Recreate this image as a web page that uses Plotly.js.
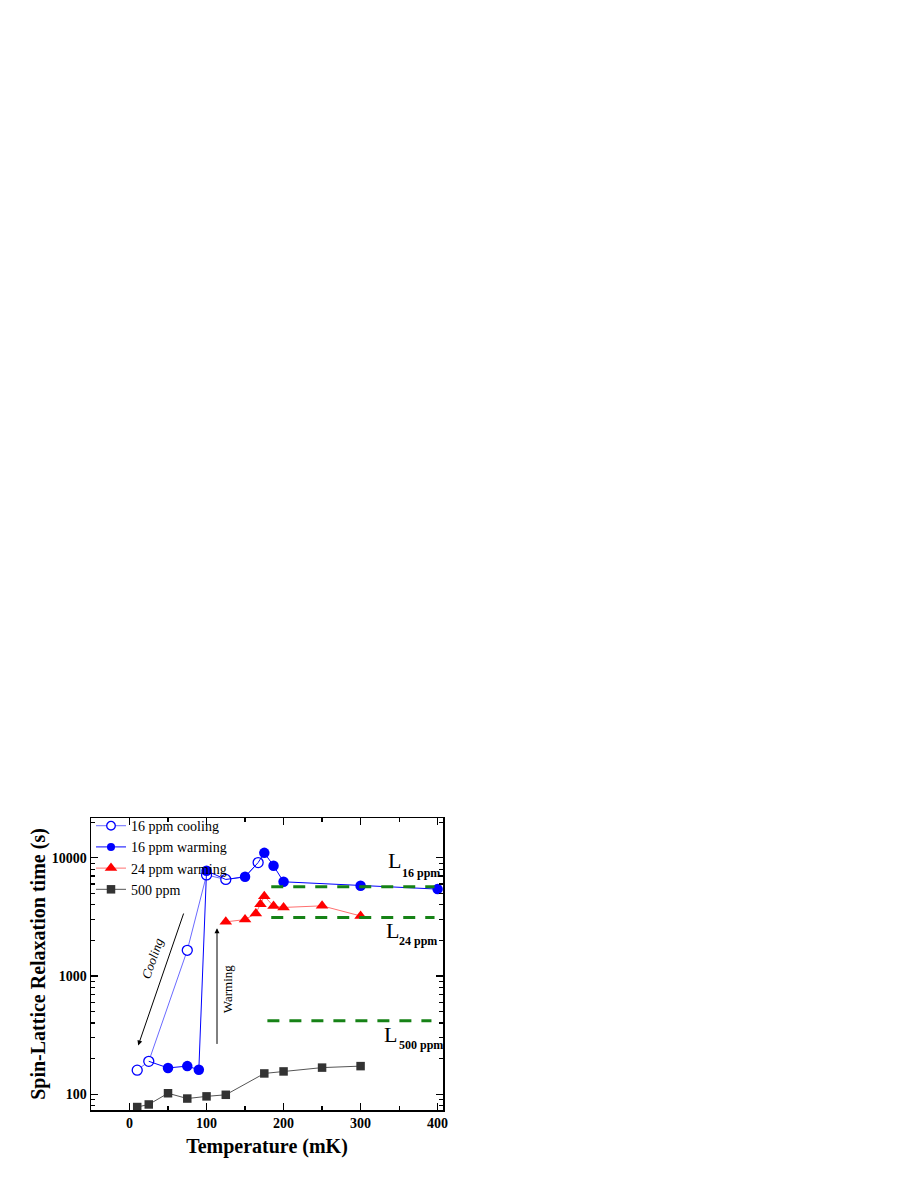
<!DOCTYPE html>
<html>
<head>
<meta charset="utf-8">
<script src="https://cdn.plot.ly/plotly-3.0.1.min.js"></script>
<style>
  body { margin: 0; background: #fff; }
  #chart { width: 913px; height: 1182px; }
</style>
</head>
<body>
<div id="chart"></div>
<script>
// 16 ppm cooling (open circles); 0-size points only carry the line
const coolT = [10, 25, 75, 100, 125, 150, 167];
const coolTau = [160, 190, 1650, 7150, 6550, 6900, 9100];
const coolSize = [10, 10, 10, 10, 10, 0, 10];

// 16 ppm warming (filled circles)
const warmT = [25, 50, 75, 90, 100, 125, 150, 167, 175, 187, 200, 300, 400];
const warmTau = [190, 167, 173, 161, 7760, 6550, 6900, 9100, 11000, 8560, 6260, 5790, 5430];
const warmSize = [0, 10.5, 10.5, 10.5, 10.5, 0, 10.5, 0, 10.5, 10.5, 10.5, 10.5, 10.5];

// 24 ppm warming (triangles)
const t24 = [125, 150, 164, 170, 175, 187, 200, 250, 300];
const tau24 = [2870, 3000, 3380, 4050, 4730, 3900, 3800, 3920, 3220];

// 500 ppm (squares)
const t500 = [10, 25, 50, 75, 100, 125, 175, 200, 250, 300];
const tau500 = [78, 82, 102, 92, 96, 99, 150, 156, 168, 173];

// limit levels L (green dashes)
const limitNames = ['16 ppm', '24 ppm', '500 ppm'];
const limitTau = [5680, 3125, 419];
const limitStart = [184, 184, 179];
const limitEnd = [396, 396, 392];

const serif = 'Liberation Serif, Times New Roman, serif';

const traces = [
  {
    x: coolT, y: coolTau, name: '16 ppm cooling',
    type: 'scatter', mode: 'lines+markers',
    line: {color: '#6a6aff', width: 1},
    marker: {symbol: 'circle', size: coolSize, color: '#ffffff', opacity: 1, line: {color: '#0000ff', width: 1.3}}
  },
  {
    x: warmT, y: warmTau, name: '16 ppm warming',
    type: 'scatter', mode: 'lines+markers',
    line: {color: '#0000ff', width: 1},
    marker: {symbol: 'circle', size: warmSize, color: '#0000ff', opacity: 1, line: {width: 0}}
  },
  {
    x: t24, y: tau24, name: '24 ppm warming',
    type: 'scatter', mode: 'lines+markers',
    line: {color: '#ff7070', width: 1},
    marker: {symbol: 'triangle-up', size: 11, color: '#ff0000', line: {width: 0}}
  },
  {
    x: t500, y: tau500, name: '500 ppm',
    type: 'scatter', mode: 'lines+markers',
    line: {color: '#555555', width: 1},
    marker: {symbol: 'square', size: 8.5, color: '#333333', line: {width: 0}}
  }
];

limitTau.forEach(function (v, i) {
  traces.push({
    x: [limitStart[i], limitEnd[i]], y: [v, v],
    type: 'scatter', mode: 'lines', showlegend: false, hoverinfo: 'skip',
    line: {color: '#168216', width: 3, dash: '12px,10px'}
  });
});

// L labels: big "L" + small bold subscript, positions in axis units (y in log10)
const labelLx = [344, 341.6, 338.7];
const labelLy = [3.976, 3.387, 2.506];
const labelSubX = [350.6, 346.8, 346.8];
const labelSubY = [3.873, 3.297, 2.413];

const annotations = [];
limitNames.forEach(function (n, i) {
  annotations.push({
    x: labelLx[i], y: labelLy[i], xref: 'x', yref: 'y', showarrow: false,
    text: 'L', font: {family: serif, size: 22, color: '#000'}
  });
  annotations.push({
    x: labelSubX[i], y: labelSubY[i], xref: 'x', yref: 'y', showarrow: false,
    xanchor: 'left', text: '<b>' + n + '</b>', font: {family: serif, size: 12, color: '#000'}
  });
});

// Cooling / Warming arrows and text
annotations.push({
  x: 11.3, y: 2.413, ax: 70.9, ay: 3.541, xref: 'x', yref: 'y', axref: 'x', ayref: 'y',
  showarrow: true, arrowhead: 2, arrowsize: 1, arrowwidth: 1, arrowcolor: '#000', text: ''
});
annotations.push({
  x: 113.6, y: 3.404, ax: 113.6, ay: 2.413, xref: 'x', yref: 'y', axref: 'x', ayref: 'y',
  showarrow: true, arrowhead: 2, arrowsize: 1, arrowwidth: 1, arrowcolor: '#000', text: ''
});
annotations.push({
  x: 29.4, y: 3.15, xref: 'x', yref: 'y', showarrow: false, textangle: -71,
  text: '<i>Cooling</i>', font: {family: serif, size: 13, color: '#000'}
});
annotations.push({
  x: 126.5, y: 2.896, xref: 'x', yref: 'y', showarrow: false, textangle: -90,
  text: 'Warming', font: {family: serif, size: 13, color: '#000'}
});

const layout = {
  width: 913, height: 1182,
  margin: {l: 91, r: 470, t: 818, b: 72},
  paper_bgcolor: '#fff', plot_bgcolor: '#fff',
  font: {family: serif, color: '#000'},
  showlegend: true,
  legend: {
    x: 0, y: 1.027, xanchor: 'left', yanchor: 'top',
    bgcolor: 'rgba(0,0,0,0)', borderwidth: 0,
    font: {family: serif, size: 14, color: '#000'},
    tracegroupgap: 0, itemsizing: 'trace'
  },
  xaxis: {
    range: [-50, 407],
    tickvals: [0, 100, 200, 300, 400],
    ticks: 'inside', ticklen: 7, tickwidth: 1.2, tickcolor: '#000',
    minor: {dtick: 50, tick0: 0, ticks: 'inside', ticklen: 4, tickcolor: '#000'},
    showline: true, linecolor: '#000', linewidth: 1.5, mirror: 'ticks',
    showgrid: false, zeroline: false,
    tickfont: {family: serif, size: 14, weight: 'bold'},
    title: {text: 'Temperature (mK)', font: {family: serif, size: 20, weight: 'bold'}, standoff: 8}
  },
  yaxis: {
    type: 'log',
    range: [1.867, 4.336],
    tickvals: [100, 1000, 10000],
    ticktext: ['100', '1000', '10000'],
    ticks: 'inside', ticklen: 7, tickwidth: 1.2, tickcolor: '#000',
    minor: {dtick: 'D1', ticks: 'inside', ticklen: 4, tickcolor: '#000'},
    showline: true, linecolor: '#000', linewidth: 1.5, mirror: 'ticks',
    showgrid: false, zeroline: false,
    tickfont: {family: serif, size: 14, weight: 'bold'},
    title: {text: 'Spin-Lattice Relaxation time (s)', font: {family: serif, size: 20, weight: 'bold'}, standoff: 0}
  },
  annotations: annotations
};

Plotly.newPlot('chart', traces, layout, {displayModeBar: false, staticPlot: true});
</script>
</body>
</html>
